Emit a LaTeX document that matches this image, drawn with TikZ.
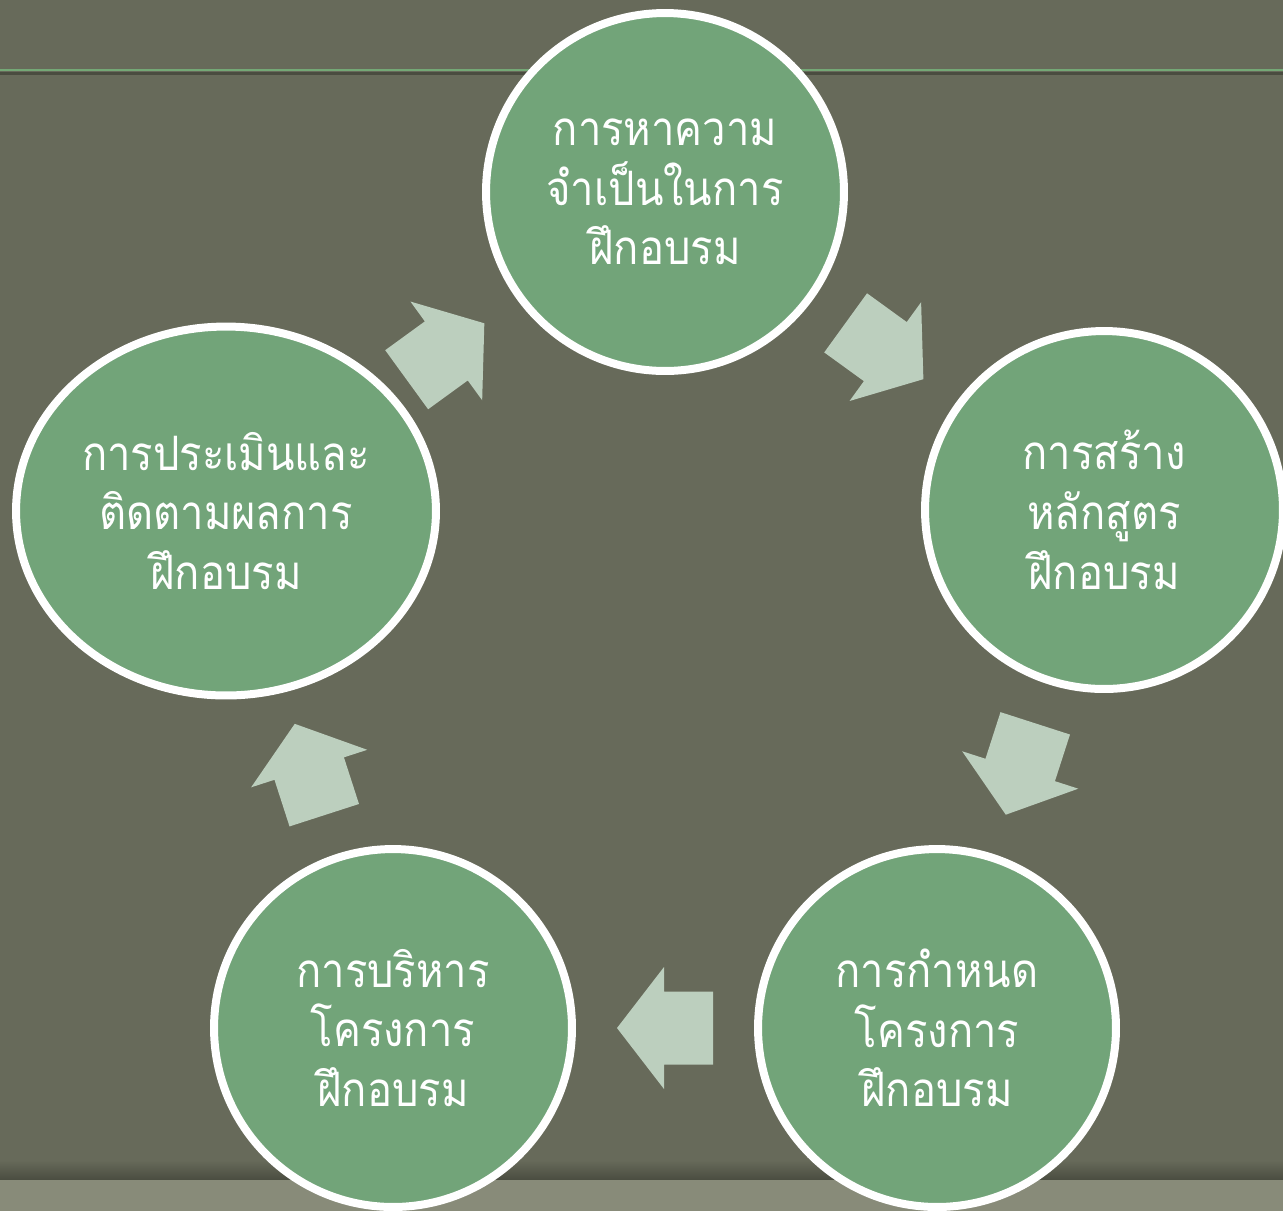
\documentclass[tikz,border=0pt]{standalone}
\usepackage{fontspec}
\usetikzlibrary{shapes.geometric,calc}
\newfontfamily\thaifont[Script=Thai, FakeStretch=0.88]{Loma}

\definecolor{slidebg}{RGB}{103,106,90}
\definecolor{slideband}{RGB}{136,139,121}
\definecolor{slideshadow}{RGB}{74,76,64}
\definecolor{rulegreen}{RGB}{116,168,118}
\definecolor{stepgreen}{RGB}{114,164,121}
\definecolor{arrowgreen}{RGB}{188,207,190}

\tikzset{
  stepcircle/.style={circle, draw=white, line width=0.16cm, fill=stepgreen,
    minimum size=7.16cm, inner sep=0pt, text=white, align=center,
    font=\thaifont\fontsize{27}{34}\selectfont},
  cyclearrow/.style={fill=arrowgreen},
}

\begin{document}
\begin{tikzpicture}[x=0.02cm, y=-0.02cm]
    % Slide background
    \fill[slidebg] (0,0) rectangle (1283,1211);
    \useasboundingbox (0,0) rectangle (1283,1211);
    \draw[rulegreen, line width=0.05cm] (0,70) -- (1283,70);
    \draw[slideshadow, line width=0.06cm] (0,73.5) -- (1283,73.5);
    \shade[top color=slidebg, bottom color=slideshadow] (0,1160) rectangle (1283,1180);
    \fill[slideband] (0,1180) rectangle (1283,1211);

    % Steps
    \node[stepcircle] (need) at (665,192) {การหาความ\\จำเป็นในการ\\ฝึกอบรม};
    \node[stepcircle] (course) at (1104,510) {การสร้าง\\หลักสูตร\\ฝึกอบรม};
    \node[stepcircle] (plan) at (937,1028) {การกำหนด\\โครงการ\\ฝึกอบรม};
    \node[stepcircle] (run) at (393,1028) {การบริหาร\\โครงการ\\ฝึกอบรม};
    \node[stepcircle, ellipse, minimum width=8.4cm, minimum height=7.38cm] (eval) at (226,511) {การประเมินและ\\ติดตามผลการ\\ฝึกอบรม};

    % Cycle arrows
    \foreach \from/\to in {need/course, course/plan, plan/run, run/eval, eval/need} {
        \pgfmathanglebetweenpoints{\pgfpointanchor{\from}{center}}{\pgfpointanchor{\to}{center}}
        \let\arrowangle\pgfmathresult
        \fill[cyclearrow, shift={($(\from)!0.5!(\to)$)}, rotate=\arrowangle]
            (-48,-36.5) -- (1,-36.5) -- (1,-61) -- (48,0) -- (1,61) -- (1,36.5) -- (-48,36.5) -- cycle;
    }
\end{tikzpicture}
\end{document}
